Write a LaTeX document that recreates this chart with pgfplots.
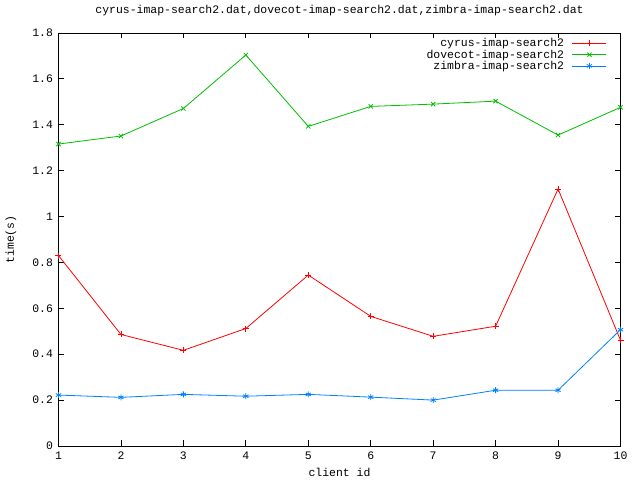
\documentclass[border=0pt]{standalone}
\usepackage{fontspec}
\setmonofont{Liberation Mono}
\usepackage{pgfplots}
\pgfplotsset{compat=1.18}
\definecolor{gred}{RGB}{255,0,0}
\definecolor{ggreen}{RGB}{0,192,0}
\definecolor{gblue}{RGB}{0,128,255}
\begin{document}
\begin{tikzpicture}[x=1bp,y=1bp]
\path[use as bounding box,fill=white] (-58.5,-34) rectangle (581.5,446);
\begin{axis}[
  at={(0,0)}, anchor=south west,
  scale only axis, width=562bp, height=413bp,
  xmin=1, xmax=10, ymin=0, ymax=1.8,
  xtick={1,...,10}, ytick={0,0.2,...,1.8},
  tick align=inside, major tick length=5.5bp,
  axis line style={line width=0.8bp},
  every tick/.style={line width=0.8bp,black},
  font=\ttfamily\fontsize{11.5}{12}\selectfont,
  /pgf/number format/assume math mode=true,
  yticklabel style={/pgf/number format/fixed, xshift=-2bp},
  xticklabel style={yshift=-2bp},
  title={cyrus-imap-search2.dat,dovecot-imap-search2.dat,zimbra-imap-search2.dat},
  title style={at={(axis description cs:0.5,1.041)}, anchor=center},
  xlabel={client id}, ylabel={time(s)},
  xlabel style={at={(axis description cs:0.5,-0.063)}, anchor=center},
  ylabel style={at={(axis description cs:-0.0845,0.5)}, anchor=center},
  legend style={draw=none, fill=none, inner sep=0pt, at={(0.976,0.992)}, anchor=north east,
    legend cell align=right, row sep=-2.5bp, column sep=6bp, font=\ttfamily\fontsize{11.5}{12}\selectfont},
  legend plot pos=right,
  legend image code/.code={\draw[#1] (0bp,0bp) -- (34bp,0bp); \draw[#1,mark repeat=1] plot coordinates {(17bp,0bp)};},
  every axis plot/.append style={line width=0.8bp, mark size=3bp, mark options={solid,line width=0.8bp}},
]
\addplot[gred, mark=+] coordinates {
(1,0.830) (2,0.486) (3,0.417) (4,0.512) (5,0.745) (6,0.565) (7,0.478) (8,0.522) (9,1.120) (10,0.461)};
\addlegendentry{cyrus-imap-search2}
\addplot[ggreen, mark=x] coordinates {
(1,1.316) (2,1.351) (3,1.471) (4,1.704) (5,1.393) (6,1.480) (7,1.490) (8,1.503) (9,1.355) (10,1.476)};
\addlegendentry{dovecot-imap-search2}
\addplot[gblue, mark=asterisk] coordinates {
(1,0.222) (2,0.212) (3,0.225) (4,0.217) (5,0.225) (6,0.213) (7,0.200) (8,0.243) (9,0.243) (10,0.507)};
\addlegendentry{zimbra-imap-search2}
\end{axis}
\end{tikzpicture}
\end{document}
